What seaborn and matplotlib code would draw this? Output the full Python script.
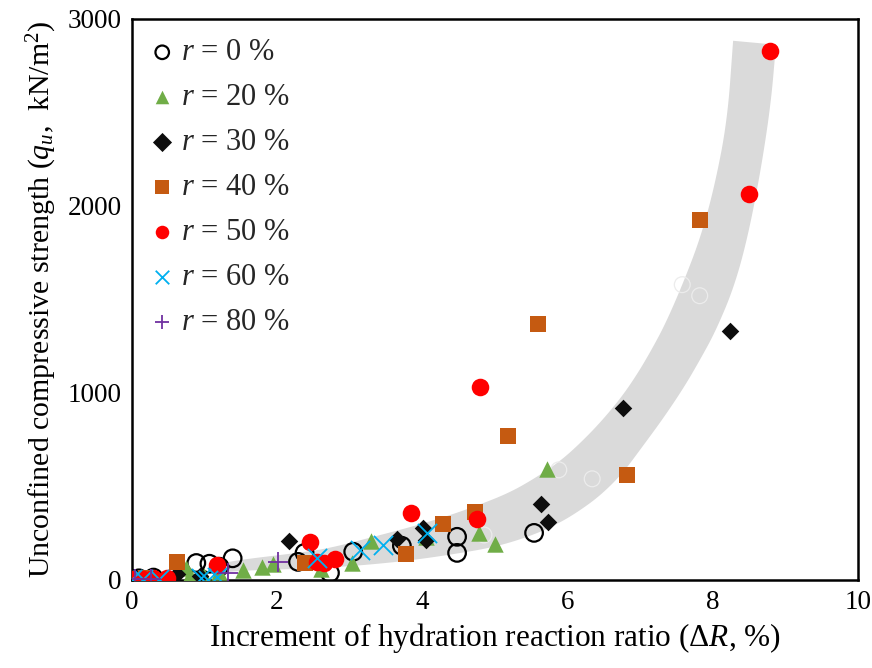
import matplotlib
matplotlib.use("Agg")
import matplotlib.pyplot as plt
import seaborn as sns
import numpy as np
from matplotlib.ticker import MultipleLocator

sns.set_theme(style="white")
plt.rcParams['font.family'] = ['Liberation Serif', 'DejaVu Serif']
plt.rcParams['mathtext.fontset'] = 'custom'
plt.rcParams['mathtext.rm'] = 'Liberation Serif'
plt.rcParams['mathtext.it'] = 'Liberation Serif:italic'

# ---------------- data ----------------
r0_x = [0.0, 0.1, 0.3, 0.89, 1.07, 1.21, 1.39, 2.29, 2.38, 2.73, 3.05, 3.72, 4.48, 4.48, 5.54]
r0_y = [5, 8, 12, 90, 86, 70, 115, 96, 144, 37, 150, 182, 230, 144, 251]

r20_x = [0.1, 0.75, 0.8, 1.0, 1.2, 1.53, 1.79, 1.94, 2.6, 3.03, 3.30, 4.05, 4.78, 5.0, 5.72]
r20_y = [5, 65, 25, 20, 40, 53, 70, 85, 60, 91, 210, 230, 251, 193, 590]

r30_x = [0.2, 0.62, 0.94, 2.16, 3.65, 4.01, 4.05, 5.63, 5.73, 6.76, 8.24]
r30_y = [5, 32, 20, 209, 219, 278, 215, 406, 310, 919, 1330]

r40_x = [0.2, 0.62, 2.38, 3.77, 4.28, 4.72, 5.18, 5.6, 6.82, 7.82]
r40_y = [10, 97, 91, 139, 300, 364, 770, 1369, 563, 1925]

r50_x = [0.0, 0.15, 0.3, 0.48, 1.18, 2.45, 2.55, 2.65, 2.80, 3.84, 4.75, 4.79, 8.50, 8.79]
r50_y = [5, 5, 8, 12, 80, 202, 95, 91, 112, 358, 326, 1030, 2064, 2829]

r60_x = [0.0, 0.15, 0.38, 0.96, 1.05, 1.17, 2.55, 3.14, 3.46, 4.06]
r60_y = [5, 5, 5, 10, 0, 15, 118, 160, 187, 251]

r80_x = [0.05, 0.27, 1.32, 2.01]
r80_y = [5, 5, 37, 96]

labels = ["$r$ = 0 %", "$r$ = 20 %", "$r$ = 30 %", "$r$ = 40 %",
          "$r$ = 50 %", "$r$ = 60 %", "$r$ = 80 %"]

# faint (white-outlined) circles visible inside the grey band
ghost_x = [4.85, 5.88, 6.34, 7.58, 7.82]
ghost_y = [240, 588, 540, 1578, 1519]

# grey trend band outline
band_up_x = [1.2, 1.49, 2.2, 2.68, 3.28, 3.84, 4.3, 4.71, 5.2, 5.58, 5.9, 6.16, 6.45,
             6.74, 6.96, 7.15, 7.35, 7.6, 7.83, 8.02, 8.2, 8.28]
band_up_y = [85, 107, 140, 165, 225, 282, 335, 390, 465, 550, 635, 725, 840,
             975, 1100, 1225, 1370, 1594, 1829, 2096, 2454, 2882]
band_lo_x = [1.2, 1.46, 2.0, 2.68, 3.3, 3.84, 4.4, 5.0, 5.5, 5.87, 6.15, 6.45, 6.75,
             7.03, 7.33, 7.61, 7.83, 8.04, 8.29, 8.48, 8.66, 8.80, 8.87]
band_lo_y = [35, 48, 55, 64, 82, 104, 135, 175, 235, 300, 365, 450, 565,
             711, 870, 1033, 1180, 1330, 1561, 1829, 2187, 2545, 2861]


def chaikin(xs, ys, n=3):
    """Smooth an open polyline (shape outline only) keeping its end points."""
    p = np.column_stack([xs, ys]).astype(float)
    for _ in range(n):
        q = 0.75 * p[:-1] + 0.25 * p[1:]
        r = 0.25 * p[:-1] + 0.75 * p[1:]
        mid = np.empty((2 * len(q), 2))
        mid[0::2] = q
        mid[1::2] = r
        p = np.vstack([p[:1], mid, p[-1:]])
    return p[:, 0], p[:, 1]


# ---------------- figure ----------------
fig = plt.figure(figsize=(8.72, 6.68), dpi=100)
ax = fig.add_axes([0.151, 0.132, 0.833, 0.840])

ux, uy = chaikin(band_up_x, band_up_y)
lx, ly = chaikin(band_lo_x, band_lo_y)
ax.fill(np.concatenate([ux, lx[::-1]]), np.concatenate([uy, ly[::-1]]),
        color="#dadada", lw=0, zorder=1)

sns.scatterplot(x=ghost_x, y=ghost_y, ax=ax, marker="o", s=130, legend=False, zorder=2)
c = ax.collections[-1]
c.set_facecolor("none"); c.set_edgecolor("#ececec"); c.set_linewidth(0.9)

series = [
    (r0_x, r0_y, "o", "black", 160),
    (r20_x, r20_y, "^", "#70AD47", 140),
    (r30_x, r30_y, "D", "#0d0d0d", 80),
    (r40_x, r40_y, "s", "#C55A11", 130),
    (r50_x, r50_y, "o", "#FF0000", 160),
    (r60_x, r60_y, "x", "#00B0F0", 190),
    (r80_x, r80_y, "+", "#7030A0", 190),
]
for i, ((xs, ys, mk, col, sz), lab) in enumerate(zip(series, labels)):
    if mk in ("x", "+"):
        sns.scatterplot(x=xs, y=ys, ax=ax, marker=mk, s=sz, color=col,
                        linewidth=1.3, label=lab, zorder=3 + i)
    else:
        sns.scatterplot(x=xs, y=ys, ax=ax, marker=mk, s=sz, color=col,
                        edgecolor=col, linewidth=0, label=lab, zorder=3 + i)
    if i == 0:
        coll = ax.collections[-1]
        coll.set_facecolor("none")
        coll.set_edgecolor("black")
        coll.set_linewidth(1.6)

ax.set_xlim(0, 10)
ax.set_ylim(0, 3000)
ax.xaxis.set_major_locator(MultipleLocator(2))
ax.xaxis.set_minor_locator(MultipleLocator(1))
ax.yaxis.set_major_locator(MultipleLocator(1000))
ax.yaxis.set_minor_locator(MultipleLocator(500))
ax.tick_params(which="both", direction="in", width=1.5, labelsize=19.5, color="black",
               labelcolor="black")
ax.tick_params(which="major", length=7, pad=7)
ax.tick_params(which="minor", length=7)
for sp in ax.spines.values():
    sp.set_color("black")
    sp.set_linewidth(1.8)

ax.set_xlabel("Increment of hydration reaction ratio ($\\mathit{ΔR}$, %)", fontsize=22.5,
              color="black", labelpad=5)
ax.set_ylabel("Unconfined compressive strength ($q_u$,  kN/m$^2$)", fontsize=21.5,
              color="black", labelpad=6)

leg = ax.legend(loc="upper left", frameon=False, fontsize=22, handletextpad=0.15,
                labelspacing=0.52, borderaxespad=0.15, handlelength=0.9,
                bbox_to_anchor=(0.0, 0.995))
for h in leg.legend_handles:
    try:
        h.set_sizes([95])
    except Exception:
        pass

fig.savefig("out.png", dpi=100)
